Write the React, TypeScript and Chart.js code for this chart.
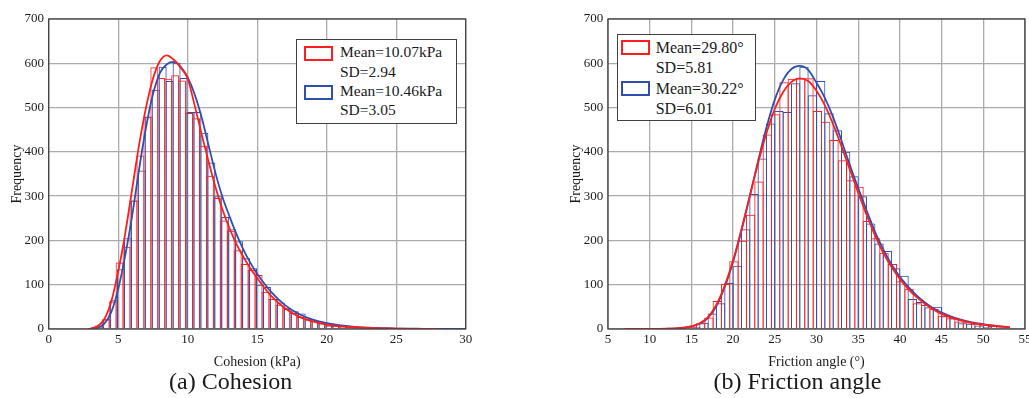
import React, { useEffect, useRef } from "react";
import { Chart, registerables } from "chart.js";

Chart.register(...registerables);

const FONT = "'Liberation Serif', 'Times New Roman', Times, serif";
const RED = "#ff1e1e";
const BLUE = "#2f4fae";
const GRID = "#ababab";
const FRAME = "#404040";
const TEXT = "#1a1a1a";

// ---------- (a) Cohesion ----------
const cohesionRedBins = [3.1, 3.6, 4.1, 4.6, 5.1, 5.6, 6.1, 6.6, 7.1, 7.6, 8.1, 8.6, 9.1, 9.6, 10.1, 10.6, 11.1, 11.6, 12.1, 12.6, 13.1, 13.6, 14.1, 14.6, 15.1, 15.6, 16.1, 16.6, 17.1, 17.6, 18.1, 18.6, 19.1, 19.6, 20.1, 20.6, 21.1, 21.6, 22.1, 22.6, 23.1, 23.6, 24.1, 24.6, 25.1, 25.6, 26.1, 26.6, 27.1, 27.6, 28.1];
const cohesionRedCounts = [2, 8, 22, 62, 150, 186, 290, 392, 478, 591, 567, 565, 573, 561, 488, 476, 414, 346, 296, 245, 222, 178, 147, 133, 122, 84, 68, 55, 48, 36, 27, 22, 18, 14, 10, 8, 7, 5, 4, 3, 2, 1, 2, 1, 1, 0, 1, 0, 1, 0, 1];
const cohesionBlueBins = [3.2, 3.7, 4.2, 4.7, 5.2, 5.7, 6.2, 6.7, 7.2, 7.7, 8.2, 8.7, 9.2, 9.7, 10.2, 10.7, 11.2, 11.7, 12.2, 12.7, 13.2, 13.7, 14.2, 14.7, 15.2, 15.7, 16.2, 16.7, 17.2, 17.7, 18.2, 18.7, 19.2, 19.7, 20.2, 20.7, 21.2, 21.7, 22.2, 22.7, 23.2, 23.7, 24.2, 24.7, 25.2, 25.7, 26.2, 26.7, 27.2, 27.7, 28.2, 28.7, 29.2, 29.7];
const cohesionBlueCounts = [1, 5, 22, 65, 135, 205, 290, 358, 480, 540, 592, 560, 601, 567, 490, 490, 443, 376, 300, 253, 225, 198, 160, 137, 100, 95, 68, 60, 45, 40, 35, 22, 18, 13, 8, 10, 6, 5, 4, 3, 2, 1, 1, 1, 1, 0, 1, 0, 0, 1, 0, 1, 1, 1];
const cohesionRedCurveX = [2.8, 3, 3.5, 4, 4.5, 5, 5.5, 6, 6.5, 7, 7.5, 8, 8.5, 9, 9.5, 10, 10.5, 11, 11.5, 12, 12.5, 13, 13.5, 14, 14.5, 15, 16, 17, 18, 19, 20, 21, 22, 23, 24, 25, 26, 28];
const cohesionRedCurveY = [0, 1, 6, 22, 62, 130, 215, 315, 415, 500, 565, 605, 618, 608, 590, 565, 505, 440, 378, 320, 270, 228, 192, 163, 137, 115, 75, 47, 28, 17, 10, 6, 4, 2.5, 1.5, 1, 0.5, 0];
const cohesionBlueCurveX = [3.3, 3.5, 4, 4.5, 5, 5.5, 6, 6.5, 7, 7.5, 8, 8.5, 9, 9.5, 10, 10.5, 11, 11.5, 12, 12.5, 13, 13.5, 14, 14.5, 15, 16, 17, 18, 19, 20, 21, 22, 23, 24, 25, 27, 30];
const cohesionBlueCurveY = [0, 2, 12, 38, 90, 165, 255, 360, 455, 530, 578, 598, 603, 592, 568, 530, 478, 415, 352, 298, 255, 215, 180, 150, 125, 84, 54, 34, 21, 13, 8, 5, 3, 2, 1, 0.5, 0];

// ---------- (b) Friction angle ----------
const frictionRedBins = [7.1, 8.1, 9.1, 10.1, 11.1, 12.1, 13.1, 14.1, 15.1, 16.1, 17.1, 18.1, 19.1, 20.1, 21.1, 22.1, 23.1, 24.1, 25.1, 26.1, 27.1, 28.1, 29.1, 30.1, 31.1, 32.1, 33.1, 34.1, 35.1, 36.1, 37.1, 38.1, 39.1, 40.1, 41.1, 42.1, 43.1, 44.1, 45.1, 46.1, 47.1, 48.1, 49.1, 50.1, 51.1, 52.1, 53.1];
const frictionRedCounts = [1, 0, 1, 0, 1, 1, 1, 3, 5, 13, 26, 63, 102, 153, 199, 258, 333, 439, 485, 557, 565, 566, 566, 492, 468, 427, 381, 336, 321, 244, 205, 172, 147, 108, 91, 58, 54, 46, 30, 24, 17, 15, 12, 10, 7, 4, 2];
const frictionBlueBins = [7.5, 8.5, 9.5, 10.5, 11.5, 12.5, 13.5, 14.5, 15.5, 16.5, 17.5, 18.5, 19.5, 20.5, 21.5, 22.5, 23.5, 24.5, 25.5, 26.5, 27.5, 28.5, 29.5, 30.5, 31.5, 32.5, 33.5, 34.5, 35.5, 36.5, 37.5, 38.5, 39.5, 40.5, 41.5, 42.5, 43.5, 44.5, 45.5, 46.5, 47.5, 48.5, 49.5, 50.5, 51.5, 52.5];
const frictionBlueCounts = [0, 0, 1, 1, 0, 1, 1, 2, 5, 14, 35, 58, 104, 143, 225, 305, 385, 464, 492, 490, 555, 592, 528, 560, 487, 449, 400, 345, 300, 238, 193, 176, 137, 120, 68, 61, 49, 50, 29, 24, 13, 12, 8, 5, 3, 2];
const frictionRedCurveX = [7, 10, 12, 13, 14, 15, 16, 17, 18, 19, 20, 21, 22, 23, 24, 25, 26, 27, 28, 29, 30, 31, 32, 33, 34, 35, 36, 37, 38, 39, 40, 41, 42, 43, 44, 45, 46, 47, 48, 49, 50, 51, 52, 53.2];
const frictionRedCurveY = [0, 0.2, 0.8, 1.5, 3, 6, 13, 27, 55, 98, 155, 225, 300, 375, 442, 497, 535, 558, 566, 560, 538, 505, 462, 412, 360, 308, 258, 212, 172, 140, 113, 90, 72, 57, 44, 34, 27, 21, 16, 12.5, 10, 8, 6, 4];
const frictionBlueCurveX = [9, 12, 13, 14, 15, 16, 17, 18, 19, 20, 21, 22, 23, 24, 25, 26, 27, 28, 29, 30, 31, 32, 33, 34, 35, 36, 37, 38, 39, 40, 41, 42, 43, 44, 45, 46, 47, 48, 49, 50, 51, 52, 53];
const frictionBlueCurveY = [0, 0.5, 1, 2.5, 6, 12, 25, 52, 95, 152, 222, 300, 380, 455, 518, 562, 587, 594, 585, 556, 522, 478, 425, 370, 318, 268, 220, 180, 146, 118, 95, 76, 60, 47, 37, 29, 23, 18, 14, 11, 8, 6, 4.5];

// ---------- ticks / labels ----------
const yMin = 0;
const yMax = 700;
const yStep = 100;
const xStep = 5;

const toPoints = (xs: number[], ys: number[]) => xs.map((x, i) => ({ x, y: ys[i] }));

const framePlugin = {
  id: "frame",
  afterDraw(chart: any) {
    const { ctx, chartArea } = chart;
    ctx.save();
    ctx.strokeStyle = FRAME;
    ctx.lineWidth = 1.3;
    ctx.strokeRect(chartArea.left, chartArea.top, chartArea.right - chartArea.left, chartArea.bottom - chartArea.top);
    ctx.restore();
  },
};

type PanelProps = {
  left: number;
  yWidth: number;
  padRight: number;
  yTitlePad: number;
  xMin: number;
  xMax: number;
  binWidth: number;
  xTitle: string;
  redBins: number[];
  redCounts: number[];
  blueBins: number[];
  blueCounts: number[];
  redCurveX: number[];
  redCurveY: number[];
  blueCurveX: number[];
  blueCurveY: number[];
};

function Panel(p: PanelProps) {
  const ref = useRef<HTMLCanvasElement | null>(null);
  useEffect(() => {
    if (!ref.current) return;
    const tickFont = { family: FONT, size: 13 };
    const titleFont = { family: FONT, size: 14 };
    // bar slightly wider than the bin so neighbouring outlines share one line
    const binPx = (417 * p.binWidth) / (p.xMax - p.xMin);
    const barPct = (binPx + 1) / binPx;
    const hidden = (id: string) => ({
      type: "linear",
      display: false,
      offset: false,
      grid: { offset: false },
      min: p.xMin,
      max: p.xMax,
      ticks: { stepSize: xStep },
    });
    const chart = new Chart(ref.current, {
      type: "bar",
      data: {
        datasets: [
          {
            type: "line",
            data: toPoints(p.redCurveX, p.redCurveY),
            borderColor: RED,
            borderWidth: 1.8,
            pointRadius: 0,
            cubicInterpolationMode: "monotone",
            xAxisID: "x",
            yAxisID: "y",
            order: 0,
          } as any,
          {
            type: "line",
            data: toPoints(p.blueCurveX, p.blueCurveY),
            borderColor: BLUE,
            borderWidth: 1.8,
            pointRadius: 0,
            cubicInterpolationMode: "monotone",
            xAxisID: "x",
            yAxisID: "y",
            order: 1,
          } as any,
          {
            type: "bar",
            data: toPoints(p.redBins, p.redCounts),
            borderColor: RED,
            backgroundColor: "rgba(255,255,255,0)",
            borderWidth: 1,
            barPercentage: barPct,
            categoryPercentage: 1,
            grouped: false,
            xAxisID: "xr",
            yAxisID: "y",
            order: 2,
          } as any,
          {
            type: "bar",
            data: toPoints(p.blueBins, p.blueCounts),
            borderColor: BLUE,
            backgroundColor: "rgba(255,255,255,0)",
            borderWidth: 1,
            barPercentage: barPct,
            categoryPercentage: 1,
            grouped: false,
            xAxisID: "xb",
            yAxisID: "y",
            order: 3,
          } as any,
        ],
      },
      options: {
        responsive: false,
        animation: false,
        devicePixelRatio: 1,
        layout: { padding: { top: 19, right: p.padRight, left: 0, bottom: 0 } },
        plugins: { legend: { display: false }, tooltip: { enabled: false } },
        scales: {
          x: {
            type: "linear",
            position: "bottom",
            offset: false,
            min: p.xMin,
            max: p.xMax,
            ticks: { stepSize: xStep, padding: 3.2, font: tickFont, color: TEXT },
            grid: { color: GRID, lineWidth: 1.3, drawTicks: false, offset: false },
            border: { display: false },
            title: { display: true, text: p.xTitle, font: titleFont, color: TEXT, padding: { top: 0, bottom: 1.6 } },
            afterFit: (s: any) => {
              s.height = 43;
              s.paddingLeft = 0;
              s.paddingRight = 0;
            },
          },
          xr: hidden("xr"),
          xb: hidden("xb"),
          y: {
            type: "linear",
            min: yMin,
            max: yMax,
            ticks: { stepSize: yStep, padding: 4.7, font: tickFont, color: TEXT },
            grid: { color: GRID, lineWidth: 1.3, drawTicks: false },
            border: { display: false },
            title: { display: true, text: "Frequency", font: titleFont, color: TEXT, padding: { top: p.yTitlePad, bottom: 0 } },
            afterFit: (s: any) => {
              s.width = p.yWidth;
            },
          },
        },
      } as any,
      plugins: [framePlugin],
    });
    return () => chart.destroy();
  }, []);
  return (
    <canvas
      ref={ref}
      width={480}
      height={372}
      style={{ position: "absolute", left: p.left, top: 0, width: 480, height: 372 }}
    />
  );
}

type LegendProps = {
  box: [number, number, number, number];
  swatchLeft: number;
  swatchTops: [number, number];
  swatchSize: [number, number];
  textLeft: number;
  centers: number[];
  lines: string[];
  fontSize: number;
};

function Legend(l: LegendProps) {
  const colors = [RED, BLUE];
  return (
    <>
      <div
        style={{
          position: "absolute",
          left: l.box[0],
          top: l.box[1],
          width: l.box[2],
          height: l.box[3],
          border: `1px solid ${FRAME}`,
          background: "#fff",
          boxSizing: "border-box",
        }}
      />
      {l.swatchTops.map((t, i) => (
        <div
          key={"s" + i}
          style={{
            position: "absolute",
            left: l.swatchLeft,
            top: t,
            width: l.swatchSize[0],
            height: l.swatchSize[1],
            border: `1px solid ${colors[i]}`,
            outline: `0.5px solid ${colors[i]}`,
            boxSizing: "border-box",
            background: "#fff",
          }}
        />
      ))}
      {l.lines.map((txt, i) => (
        <div
          key={"t" + i}
          style={{
            position: "absolute",
            left: l.textLeft,
            top: l.centers[i] - 10,
            height: 20,
            lineHeight: "20px",
            fontSize: l.fontSize,
            whiteSpace: "nowrap",
            color: TEXT,
          }}
        >
          {txt}
        </div>
      ))}
    </>
  );
}

const cohesionLegend = ["Mean=10.07kPa", "SD=2.94", "Mean=10.46kPa", "SD=3.05"];
const frictionLegend = ["Mean=29.80°", "SD=5.81", "Mean=30.22°", "SD=6.01"];

export default function App() {
  return (
    <div
      style={{
        position: "fixed",
        left: 0,
        top: 0,
        width: 1029,
        height: 398,
        overflow: "hidden",
        background: "#fff",
        fontFamily: FONT,
      }}
    >
      <Panel
        left={0}
        yWidth={48.7}
        padRight={14.3}
        yTitlePad={8.6}
        xMin={0}
        xMax={30}
        binWidth={0.5}
        xTitle="Cohesion (kPa)"
        redBins={cohesionRedBins}
        redCounts={cohesionRedCounts}
        blueBins={cohesionBlueBins}
        blueCounts={cohesionBlueCounts}
        redCurveX={cohesionRedCurveX}
        redCurveY={cohesionRedCurveY}
        blueCurveX={cohesionBlueCurveX}
        blueCurveY={cohesionBlueCurveY}
      />
      <Panel
        left={560}
        yWidth={48}
        padRight={15}
        yTitlePad={7.6}
        xMin={5}
        xMax={55}
        binWidth={1}
        xTitle="Friction angle (°)"
        redBins={frictionRedBins}
        redCounts={frictionRedCounts}
        blueBins={frictionBlueBins}
        blueCounts={frictionBlueCounts}
        redCurveX={frictionRedCurveX}
        redCurveY={frictionRedCurveY}
        blueCurveX={frictionBlueCurveX}
        blueCurveY={frictionBlueCurveY}
      />
      <Legend
        box={[296, 39, 161, 85]}
        swatchLeft={305}
        swatchTops={[47, 86]}
        swatchSize={[27, 13]}
        textLeft={340}
        centers={[52.3, 71.7, 90.7, 110]}
        lines={cohesionLegend}
        fontSize={15.5}
      />
      <Legend
        box={[617, 34, 139, 87]}
        swatchLeft={622}
        swatchTops={[41, 82]}
        swatchSize={[27, 13]}
        textLeft={655.7}
        centers={[48.3, 68.3, 89.3, 109.3]}
        lines={frictionLegend}
        fontSize={16}
      />
      <div style={{ position: "absolute", left: 0, width: 461.4, top: 367, height: 28, lineHeight: "28px", fontSize: 24, textAlign: "center", color: TEXT }}>
        (a) Cohesion
      </div>
      <div style={{ position: "absolute", left: 597.5, width: 400, top: 367, height: 28, lineHeight: "28px", fontSize: 24, textAlign: "center", color: TEXT }}>
        (b) Friction angle
      </div>
    </div>
  );
}
